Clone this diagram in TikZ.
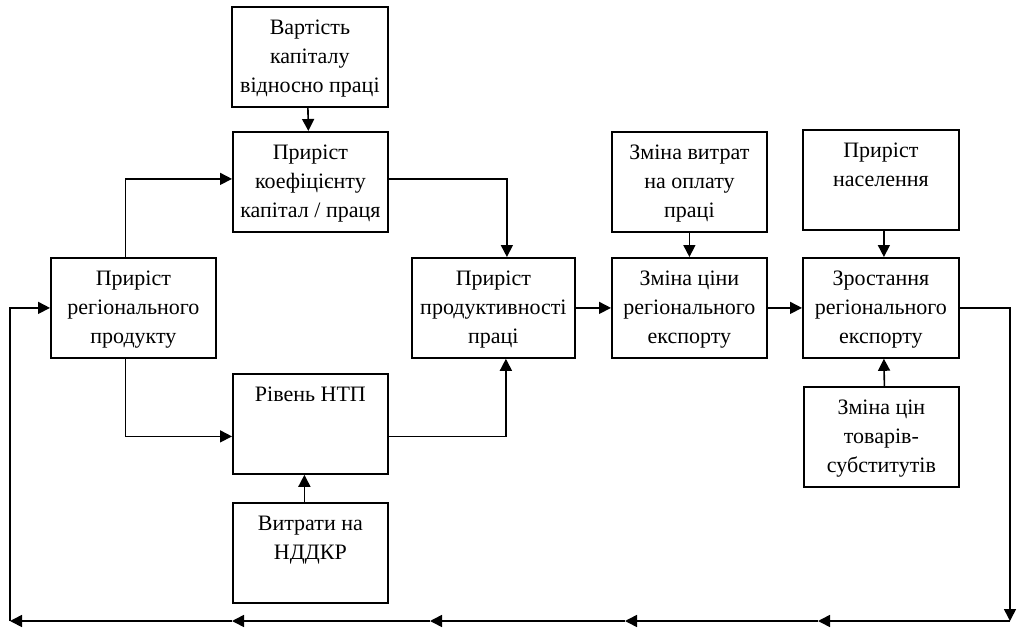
\documentclass[tikz,border=0pt]{standalone}
\usepackage{fontspec}
\setmainfont{Liberation Serif}
\usepackage{tikz}
\usetikzlibrary{arrows.meta}

%text of a block, set from the top
\newcommand{\blocktext}[2][155pt]{\parbox[c][100pt][t]{#1}{\centering\rule{0pt}{28pt}#2}}

\begin{document}
\begin{tikzpicture}
    [x=1pt,y=-1pt,line cap=butt,line join=miter,
     font=\fontsize{22}{29}\selectfont,
     >={Triangle[length=12pt,width=12pt]},
     block/.style={draw,line width=1.8pt,inner sep=0pt,anchor=north west},
     link/.style={->,line width=1.6pt}]
\useasboundingbox (0,0) rectangle (1018,629);
%blocks
\node[block] (cost) at (231,6) {\blocktext[156pt]{Вартість\\капіталу\\відносно праці}};
\node[block] (ratio) at (232,131) {\blocktext{Приріст\\коефіцієнту\\капітал / праця}};
\node[block] (gdp) at (50,257) {\blocktext[165pt]{Приріст\\регіонального\\продукту}};
\node[block] (ntp) at (232,373) {\blocktext{Рівень НТП}};
\node[block] (rnd) at (232,502) {\blocktext{Витрати на\\НДДКР}};
\node[block] (prod) at (411,257) {\blocktext[163pt]{Приріст\\продуктивності\\праці}};
\node[block] (wage) at (611,131) {\blocktext{Зміна витрат\\на оплату\\праці}};
\node[block] (price) at (611,257) {\blocktext{Зміна ціни\\регіонального\\експорту}};
\node[block] (pop) at (802,129) {\blocktext[156pt]{Приріст\\населення}};
\node[block] (export) at (802,257) {\blocktext[156pt]{Зростання\\регіонального\\експорту}};
\node[block] (subst) at (803,386) {\blocktext{Зміна цін\\товарів-\\субститутів}};

%feedback line at the bottom
\coordinate (r1) at (1010,621);
\coordinate (b1) at (818,621);
\coordinate (b2) at (625,621);
\coordinate (b3) at (430,621);
\coordinate (b4) at (232,621);
\coordinate (l1) at (10,621);

%links
\draw[link] ([xshift=-2pt]cost.south) -- ([xshift=-2pt]ratio.north);
\draw[link] ([xshift=-8pt]gdp.north) |- ([yshift=3pt]ratio.west);
\draw[link] ([xshift=-8pt]gdp.south) |- ([yshift=-12.5pt]ntp.west);
\draw[link] ([yshift=3pt]ratio.east) -| ([xshift=13.5pt]prod.north);
\draw[link] ([yshift=-12.5pt]ntp.east) -| ([xshift=12.5pt]prod.south);
\draw[link] ([xshift=-6pt]rnd.north) -- ([xshift=-6pt]ntp.south);
\draw[link] (prod.east) -- (price.west);
\draw[link] (wage.south) -- (price.north);
\draw[link] (price.east) -- (export.west);
\draw[link] ([xshift=3pt]pop.south) -- ([xshift=3pt]export.north);
\draw[link] ([xshift=3pt]subst.north) -- ([xshift=3pt]export.south);
\draw[link] (export.east) -| (r1);
\draw[link] (r1) -- (b1);
\draw[link] (b1) -- (b2);
\draw[link] (b2) -- (b3);
\draw[link] (b3) -- (b4);
\draw[link] (b4) -- (l1);
\draw[link] (l1) |- (gdp.west);
\end{tikzpicture}
\end{document}
